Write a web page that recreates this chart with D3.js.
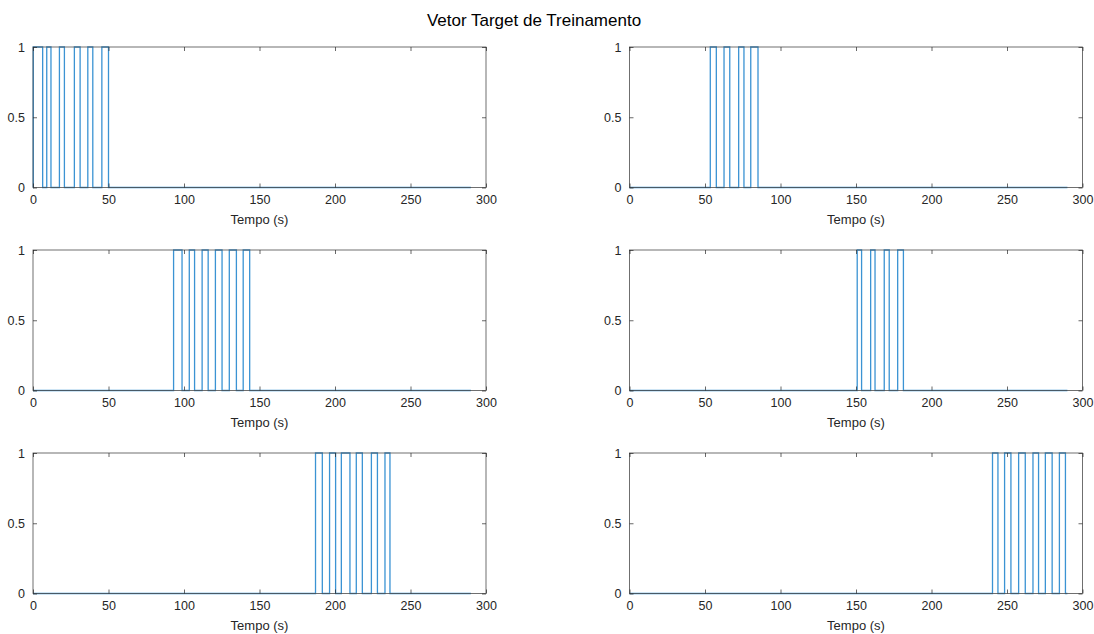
<!DOCTYPE html>
<meta charset="utf-8">
<style>
body { margin: 0; background: #fff; }
text { font-family: 'Liberation Sans', Arial, sans-serif; }
</style>
<body>
<svg id="chart" width="1094" height="634"></svg>
<script src="https://d3js.org/d3.v7.min.js"></script>
<script>
// pulse on/off times (s) for each of the six target vectors
var pulses1 = [[0.2, 6.4], [9.1, 11.9], [17.5, 20.8], [27.4, 31.2], [36.3, 39.6], [45.6, 50]];
var pulses2 = [[53.5, 57.5], [62.6, 66.4], [72.3, 75.8], [80.3, 85.1]];
var pulses3 = [[93.1, 98.7], [103.5, 107], [112, 116], [120.8, 125.2], [130, 134.7], [139.2, 143.5]];
var pulses4 = [[150.8, 153.7], [159.7, 162.6], [168.7, 172], [177.6, 181.4]];
var pulses5 = [[187.1, 191.6], [196.4, 200.4], [204.2, 209.9], [214.1, 218.1], [224.1, 228.1], [233.1, 236.4]];
var pulses6 = [[240.4, 244], [248.4, 252.6], [257.7, 262.1], [267.2, 270.9], [275.4, 279.9], [284.7, 288.7]];
var allPulses = [pulses1, pulses2, pulses3, pulses4, pulses5, pulses6];

var tStart = 0, tEnd = 290;
var xTicks = [0, 50, 100, 150, 200, 250, 300];
var yTicks = [0, 0.5, 1];
var title = "Vetor Target de Treinamento";
var xLabel = "Tempo (s)";

var axColor = "#262626";
var lineColor = "#3b93d3";

// subplot layout
var cols = [33, 629.5], rows = [47, 250, 453];
var w = 453, h = 140.5;

var svg = d3.select("#chart");

svg.append("text")
    .attr("x", 534).attr("y", 26)
    .attr("text-anchor", "middle")
    .attr("font-size", "17px")
    .attr("fill", "#000")
    .text(title);

allPulses.forEach(function(p, i) {
  var left = cols[i % 2], top = rows[Math.floor(i / 2)];
  var g = svg.append("g").attr("transform", "translate(" + left + "," + top + ")");

  var x = d3.scaleLinear().domain([0, 300]).range([0, w]);
  var y = d3.scaleLinear().domain([0, 1]).range([h, 0]);

  // build step points from the pulse list
  var pts = [[tStart, 0]];
  p.forEach(function(d) { pts.push([d[0], 1]); pts.push([d[1], 0]); });
  pts.push([tEnd, 0]);

  g.append("path")
      .datum(pts)
      .attr("fill", "none")
      .attr("stroke", lineColor)
      .attr("stroke-width", 1.3)
      .attr("d", d3.line()
        .x(function(d) { return x(d[0]); })
        .y(function(d) { return y(d[1]); })
        .curve(d3.curveStepAfter));

  // box
  g.append("rect")
      .attr("x", 0).attr("y", 0).attr("width", w).attr("height", h)
      .attr("fill", "none").attr("stroke", "#4d4d4d").attr("stroke-width", 0.8);

  var xAxis = g.append("g")
      .attr("transform", "translate(0," + h + ")")
      .call(d3.axisBottom(x).tickValues(xTicks).tickSizeInner(-4).tickSizeOuter(0).tickPadding(8));
  var xTop = g.append("g")
      .call(d3.axisTop(x).tickValues(xTicks).tickSizeInner(-4).tickSizeOuter(0).tickFormat(""));
  var yAxis = g.append("g")
      .call(d3.axisLeft(y).tickValues(yTicks).tickSizeInner(-4).tickSizeOuter(0).tickPadding(8)
        .tickFormat(function(d) { return d; }));
  var yRight = g.append("g")
      .attr("transform", "translate(" + w + ",0)")
      .call(d3.axisRight(y).tickValues(yTicks).tickSizeInner(-4).tickSizeOuter(0).tickFormat(""));

  [xAxis, xTop, yAxis, yRight].forEach(function(a) {
    a.select(".domain").remove();
    a.selectAll("line").attr("stroke", axColor).attr("stroke-width", 0.7);
    a.selectAll("text").attr("fill", axColor).attr("font-size", "12.5px")
      .attr("font-family", "'Liberation Sans', Arial, sans-serif");
  });

  g.append("text")
      .attr("x", w / 2).attr("y", h + 36)
      .attr("text-anchor", "middle")
      .attr("font-size", "13px")
      .attr("fill", axColor)
      .text(xLabel);
});
</script>
</body>
